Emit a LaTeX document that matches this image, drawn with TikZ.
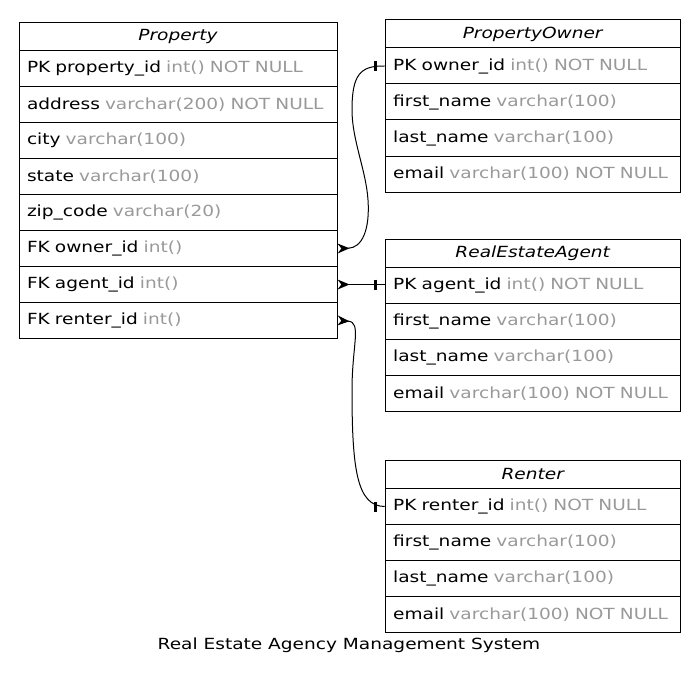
\documentclass[tikz,border=0pt]{standalone}
\usepackage{fontspec}
\setmainfont[FakeStretch=1.21]{DejaVu Sans}
\usetikzlibrary{arrows.meta,calc}
\definecolor{typegray}{HTML}{999999}
\newcommand\tyg[1]{\textcolor{typegray}{#1}}
\begin{document}
\begin{tikzpicture}[x=0.75pt,y=-0.75pt,
  every node/.style={font=\fontsize{11.5}{13.5}\selectfont},
  cell/.style={draw, line width=0.75pt, rectangle, anchor=north west, inner xsep=6pt, inner ysep=0pt, align=left},
  pcell/.style={cell, text width=226.5pt},
  ocell/.style={cell, text width=209.25pt},
  hdr/.style={minimum height=21pt, align=center, font=\fontsize{11.5}{13.5}\selectfont\itshape},
  rowc/.style={minimum height=27pt},
  crow/.style={{Stealth[reversed,length=9pt,width=7.5pt]}-},
  rel/.style={line width=0.75pt},
  teebar/.style={line width=2.2pt}
]
\useasboundingbox (0,0) rectangle (698,681);
% Property
\node[pcell,hdr] (p0) at (18.5,22) {Property};
\node[pcell,rowc] (p1) at (18.5,50) {PK property\_id \tyg{int() NOT NULL}};
\node[pcell,rowc] (p2) at (18.5,86) {address \tyg{varchar(200) NOT NULL}};
\node[pcell,rowc] (p3) at (18.5,122) {city \tyg{varchar(100)}};
\node[pcell,rowc] (p4) at (18.5,158) {state \tyg{varchar(100)}};
\node[pcell,rowc] (p5) at (18.5,194) {zip\_code \tyg{varchar(20)}};
\node[pcell,rowc] (p6) at (18.5,230) {FK owner\_id \tyg{int()}};
\node[pcell,rowc] (p7) at (18.5,266) {FK agent\_id \tyg{int()}};
\node[pcell,rowc] (p8) at (18.5,302) {FK renter\_id \tyg{int()}};
% PropertyOwner
\node[ocell,hdr] (o0) at (384.7,19.5) {PropertyOwner};
\node[ocell,rowc] (o1) at (384.7,47.5) {PK owner\_id \tyg{int() NOT NULL}};
\node[ocell,rowc] (o2) at (384.7,83.5) {first\_name \tyg{varchar(100)}};
\node[ocell,rowc] (o3) at (384.7,119.5) {last\_name \tyg{varchar(100)}};
\node[ocell,rowc] (o4) at (384.7,155.5) {email \tyg{varchar(100) NOT NULL}};
% RealEstateAgent
\node[ocell,hdr] (a0) at (384.7,239) {RealEstateAgent};
\node[ocell,rowc] (a1) at (384.7,267) {PK agent\_id \tyg{int() NOT NULL}};
\node[ocell,rowc] (a2) at (384.7,303) {first\_name \tyg{varchar(100)}};
\node[ocell,rowc] (a3) at (384.7,339) {last\_name \tyg{varchar(100)}};
\node[ocell,rowc] (a4) at (384.7,375) {email \tyg{varchar(100) NOT NULL}};
% Renter
\node[ocell,hdr] (r0) at (384.7,460) {Renter};
\node[ocell,rowc] (r1) at (384.7,488) {PK renter\_id \tyg{int() NOT NULL}};
\node[ocell,rowc] (r2) at (384.7,524) {first\_name \tyg{varchar(100)}};
\node[ocell,rowc] (r3) at (384.7,560) {last\_name \tyg{varchar(100)}};
\node[ocell,rowc] (r4) at (384.7,596) {email \tyg{varchar(100) NOT NULL}};
% caption
\node (cap) at (349,645) {Real Estate Agency Management System};
% connectors
\draw[rel,crow] (p6.east) .. controls (362,248) and (370,230) .. (368,200)
  .. controls (366,170) and (352,140) .. (352,110)
  .. controls (352,75) and (360,65.5) .. (o1.west);
\draw[teebar] ($(o1.west)+(-9,-5)$) -- ($(o1.west)+(-9,5)$);
\draw[rel,crow] (p7.east) -- (p7.east -| a1.west);
\draw[teebar] ($(p7.east -| a1.west)+(-9,-5)$) -- ($(p7.east -| a1.west)+(-9,5)$);
\draw[rel,crow] (p8.east) .. controls (362,322) and (352,345) .. (352,390)
  .. controls (352,470) and (357,506) .. (r1.west);
\draw[teebar] ($(r1.west)+(-9,-5)$) -- ($(r1.west)+(-9,5)$);
\end{tikzpicture}
\end{document}
